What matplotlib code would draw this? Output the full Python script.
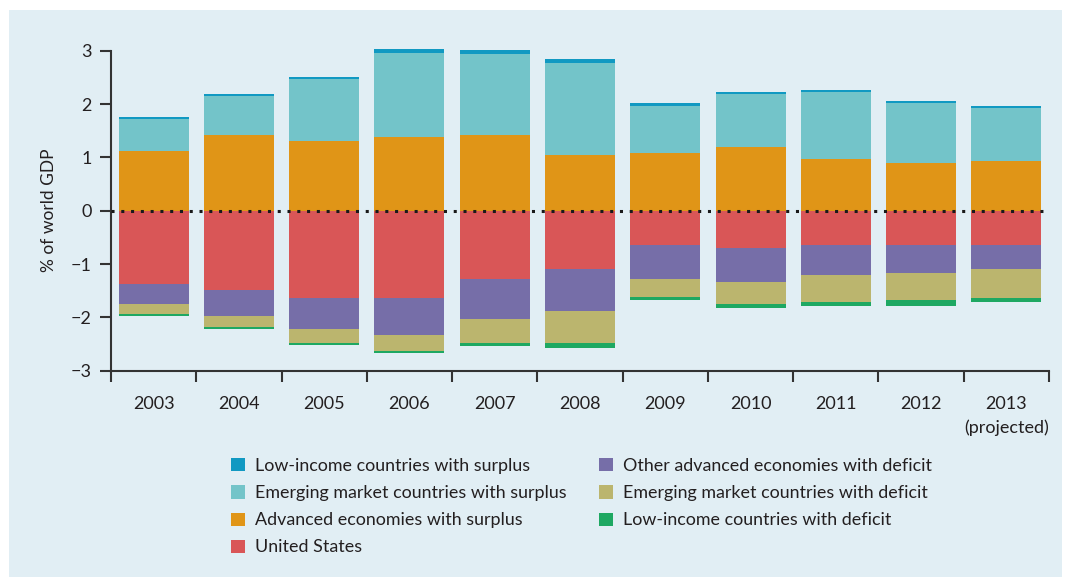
import matplotlib.pyplot as plt
import numpy as np
from matplotlib.patches import Rectangle, Patch

years = ["2003", "2004", "2005", "2006", "2007", "2008",
         "2009", "2010", "2011", "2012", "2013\n(projected)"]

# surplus side (stacked upward from zero)
adv_surplus = [1.12, 1.42, 1.31, 1.38, 1.42, 1.05, 1.08, 1.20, 0.97, 0.90, 0.93]
em_surplus = [0.60, 0.73, 1.16, 1.58, 1.52, 1.72, 0.89, 0.99, 1.26, 1.11, 1.00]
li_surplus = [0.04, 0.04, 0.04, 0.07, 0.07, 0.08, 0.04, 0.04, 0.04, 0.04, 0.04]

# deficit side (stacked downward from zero)
united_states = [-1.38, -1.48, -1.63, -1.63, -1.28, -1.10, -0.65, -0.70, -0.65, -0.65, -0.65]
other_adv_deficit = [-0.37, -0.49, -0.59, -0.70, -0.75, -0.79, -0.64, -0.64, -0.56, -0.52, -0.45]
em_deficit = [-0.19, -0.21, -0.26, -0.30, -0.45, -0.60, -0.32, -0.41, -0.50, -0.51, -0.54]
li_deficit = [-0.04, -0.04, -0.04, -0.04, -0.06, -0.08, -0.07, -0.08, -0.075, -0.11, -0.075]

BG = "#e1eef4"
COLORS = {
    "li_surplus": "#1199c2",
    "em_surplus": "#73c4c9",
    "adv_surplus": "#e09517",
    "us": "#d95657",
    "oa_deficit": "#766ea8",
    "em_deficit": "#bbb56e",
    "li_deficit": "#1ea862",
}
TEXT = "#231f20"

plt.rcParams["font.family"] = ["Lato", "DejaVu Sans"]

fig = plt.figure(figsize=(10.7, 5.77), dpi=100)
fig.patches.append(Rectangle((9 / 1070, 0), 1053 / 1070, 1 - 10 / 577,
                             transform=fig.transFigure, facecolor=BG,
                             edgecolor="none", zorder=-10))

ax = fig.add_axes([111 / 1070, 1 - 370.7 / 577, 938 / 1070, 320 / 577])
ax.set_facecolor("none")

x = np.arange(len(years))
w = 0.82

bottom = np.zeros(len(years))
for vals, key in [(adv_surplus, "adv_surplus"), (em_surplus, "em_surplus"),
                  (li_surplus, "li_surplus")]:
    ax.bar(x, vals, w, bottom=bottom, color=COLORS[key], linewidth=0, clip_on=False)
    bottom += np.array(vals)

bottom = np.zeros(len(years))
for vals, key in [(united_states, "us"), (other_adv_deficit, "oa_deficit"),
                  (em_deficit, "em_deficit"), (li_deficit, "li_deficit")]:
    ax.bar(x, vals, w, bottom=bottom, color=COLORS[key], linewidth=0, clip_on=False)
    bottom += np.array(vals)

ax.axhline(0, color="#1a1a1a", linestyle=(0, (1, 2.2)), linewidth=2.2, zorder=5)

ax.set_xlim(-0.5, len(years) - 0.5)
ax.set_ylim(-3, 3)
ax.set_yticks(range(-3, 4))
ax.set_xticks(x)
ax.set_xticklabels(years)
ax.set_xticks(np.arange(-0.5, len(years)), minor=True)
ax.tick_params(axis="x", which="major", length=0, pad=18, labelsize=13, colors=TEXT)
ax.tick_params(axis="x", which="minor", length=8, width=1.5, color="#333333")
ax.tick_params(axis="y", length=8, width=1.5, color="#333333", labelsize=13,
               labelcolor=TEXT, pad=6)
for lab in ax.get_xticklabels():
    lab.set_linespacing(1.55)

for side in ["top", "right"]:
    ax.spines[side].set_visible(False)
for side in ["left", "bottom"]:
    ax.spines[side].set_color("#333333")
    ax.spines[side].set_linewidth(1.5)

ax.set_ylabel("% of world GDP", fontsize=12.5, color=TEXT, labelpad=10)

labels = [
    ("Low-income countries with surplus", "li_surplus"),
    ("Emerging market countries with surplus", "em_surplus"),
    ("Advanced economies with surplus", "adv_surplus"),
    ("United States", "us"),
    ("Other advanced economies with deficit", "oa_deficit"),
    ("Emerging market countries with deficit", "em_deficit"),
    ("Low-income countries with deficit", "li_deficit"),
]
handles = [Patch(facecolor=COLORS[k], edgecolor="none", label=t) for t, k in labels]
fig.legend(handles=handles, ncol=2, loc="upper left",
           bbox_to_anchor=(215 / 1070, 1 - 442 / 577), frameon=False,
           fontsize=12.9, labelcolor=TEXT, handlelength=0.75, handleheight=0.75,
           handletextpad=0.6, columnspacing=1.8, labelspacing=0.62)

fig.savefig("out.png", dpi=100, facecolor="white")
